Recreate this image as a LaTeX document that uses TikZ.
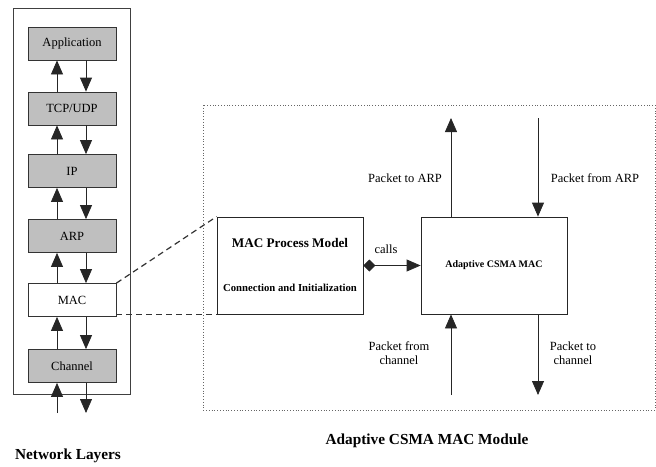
\documentclass[tikz,border=0pt]{standalone}
\usepackage{fontspec}
\setmainfont{Liberation Serif}
\usepackage{tikz}
\usetikzlibrary{arrows.meta}

\begin{document}
\begin{tikzpicture}[x=1pt,y=-1pt,line width=0.8pt,
   layer/.style={draw=black!80,fill=#1,minimum width=88pt,minimum height=33pt,inner sep=0pt,font=\fontsize{12.5}{14}\selectfont},
   layer/.default=black!25,
   block/.style={draw=black!85,minimum width=146pt,minimum height=97pt,inner sep=0pt},
   flow/.style={draw=black!85,-{Triangle[length=14pt,width=12pt]}},
   link/.style={draw=black!80,dash pattern=on 6pt off 4pt,line width=1.2pt},
   lbl/.style={font=\fontsize{12.5}{14}\selectfont,align=center},
   caption/.style={font=\fontsize{15.3}{18}\selectfont\bfseries}]
\useasboundingbox (0,0) rectangle (656,466);
% network layers
\draw[black!75] (13,8) rectangle (130,394);
\node[layer] (app) at (72,43.5) {Application};
\node[layer] (tcp) at (72,108.5) {TCP/UDP};
\node[layer] (ip) at (72,171) {IP};
\node[layer] (arp) at (72,236) {ARP};
\node[layer=white] (mac) at (72,300) {MAC};
\node[layer] (chan) at (72,366) {Channel};
\foreach \lo/\hi in {tcp/app,ip/tcp,arp/ip,mac/arp,chan/mac} {
   \draw[flow] ([xshift=-15pt]\lo.north) -- ([xshift=-15pt]\hi.south);
   \draw[flow] ([xshift=14pt]\hi.south) -- ([xshift=14pt]\lo.north);
}
\coordinate (chin) at (57,413);
\coordinate (chout) at (86,413);
\draw[flow] (chin) -- (chin |- chan.south);
\draw[flow] (chout |- chan.south) -- (chout);
\node[caption] (netcap) at (68,456) {Network Layers};
% adaptive csma mac module
\draw[black!60,dotted] (203,105) rectangle (655,410);
\node[block] (proc) at (290,265.5) {};
\node[font=\fontsize{13.2}{15}\selectfont\bfseries] (proctitle) at (290,243) {MAC Process Model};
\node[font=\fontsize{10.7}{12}\selectfont\bfseries] (procsub) at (290,288) {Connection and Initialization};
\node[block,font=\fontsize{10}{12}\selectfont\bfseries] (csma) at (494,265.5) {Adaptive CSMA MAC};
\draw[draw=black!85,{Diamond[length=12pt,width=12pt]}-{Triangle[length=14pt,width=12pt]}] (proc.east) -- (csma.west);
\node[lbl] (calls) at (386,249) {calls};
\coordinate (arpout) at (451,118);
\coordinate (arpin) at (538,118);
\coordinate (chanin) at (451,395);
\coordinate (chanout) at (538,395);
\draw[flow] (arpout |- csma.north) -- (arpout);
\draw[flow] (arpin) -- (arpin |- csma.north);
\draw[flow] (chanin) -- (chanin |- csma.south);
\draw[flow] (chanout |- csma.south) -- (chanout);
\node[lbl] (toarp) at (405,178) {Packet to ARP};
\node[lbl] (fromarp) at (595,178) {Packet from ARP};
\node[lbl] (fromchan) at (399,353) {Packet from\\channel};
\node[lbl] (tochan) at (573,353) {Packet to\\channel};
% zoom lines
\draw[link] (mac.north east) -- (proc.north west);
\draw[link] (mac.east |- proc.south west) -- (proc.south west);
\node[caption] (modcap) at (427,441) {Adaptive CSMA MAC Module};
\end{tikzpicture}
\end{document}
